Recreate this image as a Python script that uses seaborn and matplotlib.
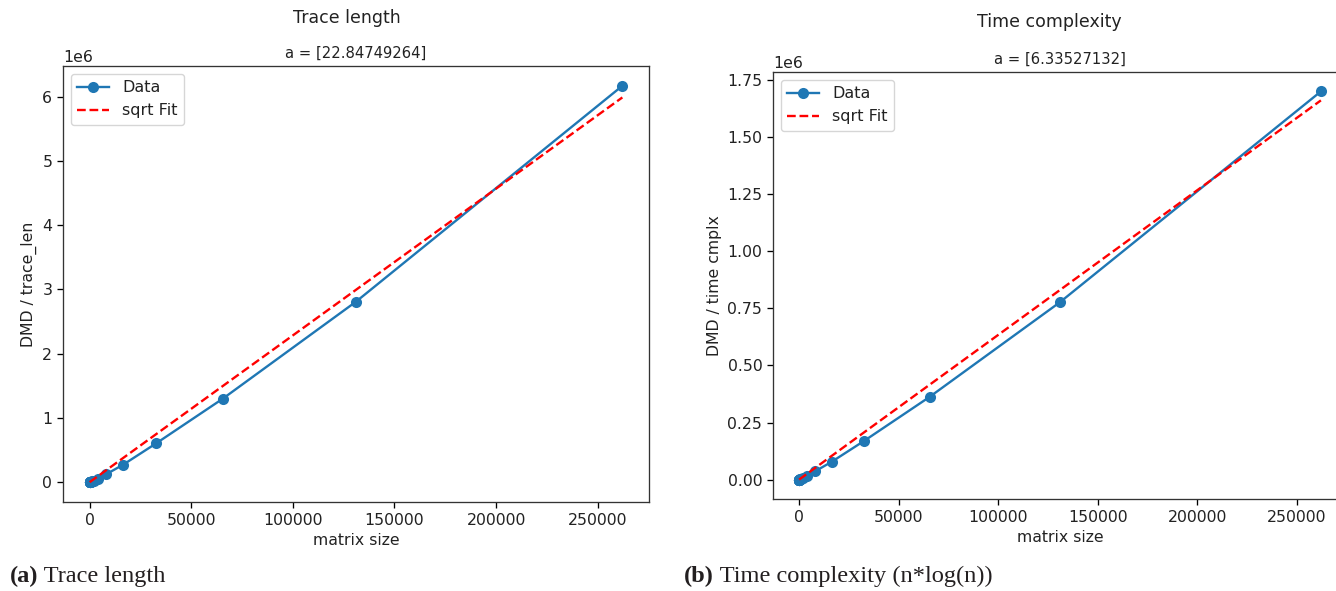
import matplotlib
matplotlib.use("Agg")
import matplotlib.pyplot as plt
import seaborn as sns
import pandas as pd
import numpy as np

# ---- data ----
matrix_size = [1, 2, 4, 8, 16, 32, 64, 128, 256, 512, 1024, 2048, 4096,
               8192, 16384, 32768, 65536, 131072, 262144]
trace_len = [5, 10, 23, 50, 110, 240, 520, 1150, 2500, 5500, 12000, 26000,
             57000, 125000, 270000, 605000, 1300000, 2810000, 6170000]
time_cmplx = [2, 4, 8, 17, 37, 80, 170, 370, 800, 1700, 3700, 8000,
              17000, 37000, 78000, 170000, 362000, 777000, 1700000]
a_trace = 22.84749264
a_time = 6.33527132

panel_titles = ["Trace length", "Time complexity"]
a_labels = ["a = [22.84749264]", "a = [6.33527132]"]
ylabels = ["DMD / trace_len", "DMD / time cmplx"]
captions_bold = ["(a)", "(b)"]
captions_text = [" Trace length", " Time complexity (n*log(n))"]

plt.rcParams.update({
    "font.family": ["DejaVu Sans"],
    "font.size": 11.3,
    "axes.linewidth": 0.95,
    "axes.edgecolor": "#333333",
    "xtick.major.size": 4.2,
    "ytick.major.size": 4.2,
    "xtick.major.width": 0.95,
    "ytick.major.width": 0.95,
    "text.color": "#222222",
    "xtick.labelcolor": "#222222",
    "ytick.labelcolor": "#222222",
    "axes.labelcolor": "#222222",
})

fig = plt.figure(figsize=(13.36, 5.91), dpi=100)
W, H = 1336, 591
ax1 = fig.add_axes([63 / W, 1 - 502 / H, 586 / W, 436 / H])
ax2 = fig.add_axes([773 / W, 1 - 499 / H, 574 / W, 427 / H])

blue = "#1f77b4"
for ax, yvals, a, title, alabel, ylabel in [
    (ax1, trace_len, a_trace, panel_titles[0], a_labels[0], ylabels[0]),
    (ax2, time_cmplx, a_time, panel_titles[1], a_labels[1], ylabels[1]),
]:
    df = pd.DataFrame({"x": matrix_size, "y": yvals})
    df["fit"] = a * df["x"]
    sns.lineplot(data=df, x="x", y="y", ax=ax, color=blue, marker="o",
                 markersize=8, markeredgewidth=0, linewidth=1.7,
                 label="Data", legend=False)
    sns.lineplot(data=df, x="x", y="fit", ax=ax, color="red",
                 linestyle="--", linewidth=1.7, label="sqrt Fit", legend=False)
    ax.set_xlabel("matrix size", fontsize=11.3)
    ax.set_ylabel(ylabel, fontsize=11.3)
    ax.set_title(alabel, fontsize=10.6)
    ax.legend(loc="upper left", fontsize=11.5)
    ax.ticklabel_format(axis="y", style="sci", scilimits=(0, 0))

fig.text(347 / W, 1 - 18 / H, panel_titles[0], ha="center", va="center",
         fontsize=12.5)
fig.text(1049 / W, 1 - 22 / H, panel_titles[1], ha="center", va="center",
         fontsize=12.5)

# captions in serif, bold label + regular text
cap_color = "#231f20"
fig.canvas.draw()
renderer = fig.canvas.get_renderer()
for xpx, b, t in [(10, captions_bold[0], captions_text[0]),
                  (684, captions_bold[1], captions_text[1])]:
    tb = fig.text(xpx / W, 1 - 582 / H, b, ha="left", va="baseline",
                  fontsize=17.6, fontweight="bold", family="Liberation Serif",
                  color=cap_color)
    bb = tb.get_window_extent(renderer)
    fig.text(bb.x1 / W, 1 - 582 / H, t, ha="left", va="baseline",
             fontsize=17.6, family="Liberation Serif", color=cap_color)

fig.savefig("out.png", dpi=100)
